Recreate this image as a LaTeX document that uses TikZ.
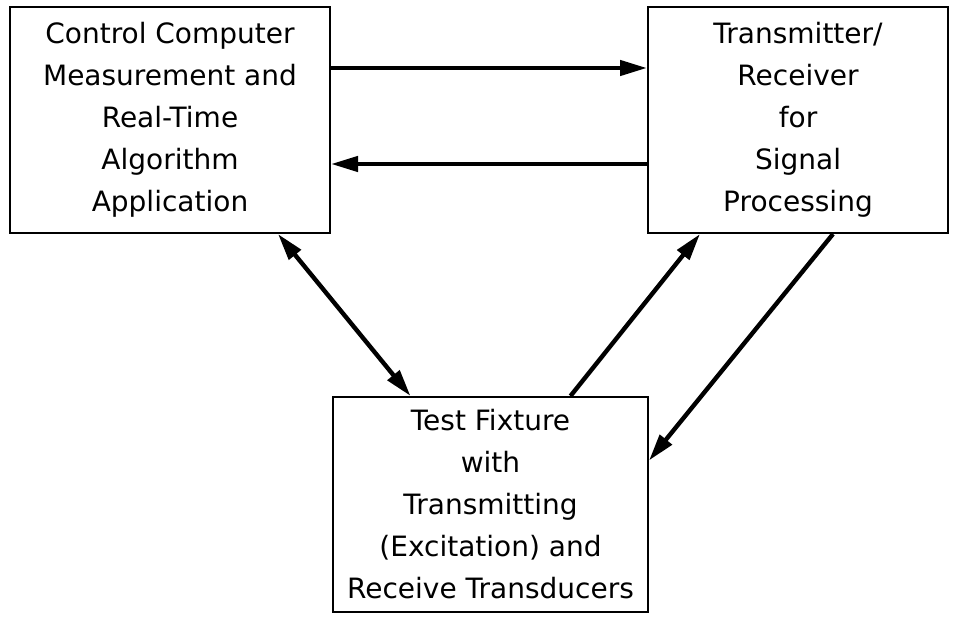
\documentclass[tikz,border=0pt]{standalone}
\usepackage{fontspec}
\setmainfont{DejaVu Sans}
\usetikzlibrary{arrows.meta}

\tikzset{
  block/.style={draw, line width=2pt, align=center, inner sep=0pt,
    font=\fontsize{28}{42}\selectfont},
  link/.style={line width=4.4pt, -{Triangle[length=27pt,width=15pt]}},
  dlink/.style={line width=4.4pt, {Triangle[length=27pt,width=15pt]}-{Triangle[length=27pt,width=15pt]}}
}

\begin{document}
\begin{tikzpicture}[x=1pt,y=-1pt]
    \useasboundingbox (0,0) rectangle (956,623);
    \node[block, minimum width=320pt, minimum height=226pt] (ctrl) at (170,120)
        {Control Computer\\Measurement and\\Real-Time\\Algorithm\\Application};
    \node[block, minimum width=300pt, minimum height=226pt] (trx) at (798,120)
        {Transmitter/\\Receiver\\for\\Signal\\Processing};
    \node[block, minimum width=315pt, minimum height=215pt] (fix) at (490.5,504.5)
        {Test Fixture\\with\\Transmitting\\(Excitation) and\\Receive Transducers};
    \draw[link] ([yshift=52pt]ctrl.east) -- ([yshift=52pt]trx.west);
    \draw[link] ([yshift=-44pt]trx.west) -- ([yshift=-44pt]ctrl.east);
    \draw[dlink] ([xshift=108pt]ctrl.south) -- ([xshift=-80pt]fix.north);
    \draw[link] ([xshift=80pt]fix.north) -- ([xshift=-98pt]trx.south);
    \draw[link] ([xshift=35pt]trx.south) -- ([yshift=44pt]fix.east);
\end{tikzpicture}
\end{document}
